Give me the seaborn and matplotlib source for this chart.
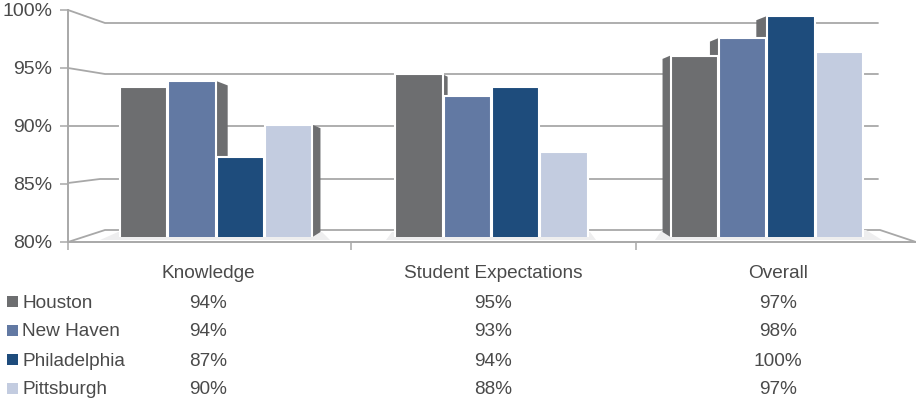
import matplotlib
matplotlib.use("Agg")
import matplotlib.pyplot as plt
from matplotlib.lines import Line2D
from matplotlib.patches import Polygon, Rectangle
from matplotlib.transforms import Affine2D
import pandas as pd
import seaborn as sns

categories = ["Knowledge", "Student Expectations", "Overall"]
series = ["Houston", "New Haven", "Philadelphia", "Pittsburgh"]
houston = [93.6, 94.8, 96.5]
new_haven = [94.2, 92.8, 98.1]
philadelphia = [87.3, 93.6, 100.1]
pittsburgh = [90.2, 87.7, 96.8]
table_houston = ["94%", "95%", "97%"]
table_new_haven = ["94%", "93%", "98%"]
table_philadelphia = ["87%", "94%", "100%"]
table_pittsburgh = ["90%", "88%", "97%"]
y_ticks = [80, 85, 90, 95, 100]
colors = ["#6d6e70", "#6279a3", "#1e4c7c", "#c3cce0"]
side_color = "#6d6e70"
text_color = "#4a4a4a"
line_color = "#a8a8a8"

W, H = 916, 401
sns.set_theme(style="white")
plt.rcParams["font.family"] = ["Liberation Sans", "DejaVu Sans"]

df = pd.DataFrame({
    "category": categories * 4,
    "series": [s for s in series for _ in categories],
    "value": houston + new_haven + philadelphia + pittsburgh,
})

fig = plt.figure(figsize=(W / 100, H / 100), dpi=100, facecolor="white")
PX = Affine2D().scale(1, -1).translate(0, H)


def box(x0, ytop, x1, ybot):
    return [x0 / W, 1 - ybot / H, (x1 - x0) / W, (ybot - ytop) / H]


# back wall / frame axis
wall = fig.add_axes(box(68, 10, 916, 242), zorder=1)
wall.set_xlim(0, 3)
wall.set_ylim(80, 100)
wall.patch.set_alpha(0)
for s in ["top", "right"]:
    wall.spines[s].set_visible(False)
for s in ["left", "bottom"]:
    wall.spines[s].set_color(line_color)
    wall.spines[s].set_linewidth(1.4)
wall.set_yticks(y_ticks)
wall.set_yticklabels([f"{v}%" for v in y_ticks], fontsize=14, color=text_color)
wall.set_xticks([0, 1, 2.01])
wall.set_xticklabels([])
wall.tick_params(axis="both", length=5.5, width=1.1, color=line_color, left=True, bottom=True, pad=6)

grid_paths = [
    [(68, 10), (105, 23), (878, 23)],
    [(68, 68), (105, 74), (878, 74)],
    [(68, 126), (105, 126), (878, 126)],
    [(68, 183), (100, 179), (878, 179)],
    [(68, 242), (105, 230), (880, 230), (916, 242)],
]
for path in grid_paths:
    xs, ys = zip(*path)
    wall.add_line(Line2D(xs, ys, transform=PX, color=line_color, lw=1.3, clip_on=False, zorder=1))

floors = [
    [(100, 240), (118, 232), (322, 232), (330, 240)],
    [(386, 240), (392, 232), (590, 232), (596, 240)],
    [(655, 240), (662, 230), (866, 230), (882, 240)],
]
for poly in floors:
    wall.add_patch(Polygon(poly, closed=True, transform=PX, facecolor="#eeeeef", edgecolor="none",
                           clip_on=False, zorder=1.5))

# bars
ax = fig.add_axes(box(78.5, 0, 904.5, 237), zorder=2)
ax.patch.set_alpha(0)
sns.barplot(data=df, x="category", y="value", hue="series", order=categories, hue_order=series,
            palette=colors, saturation=1, width=0.703, gap=0.02, legend=False, ax=ax,
            edgecolor="white", linewidth=1.5, zorder=3)
ax.set_xlim(-0.5, 2.5)
ax.set_ylim(80, 80 + 237 / 11)
ax.axis("off")

# 3-D side faces, built from each drawn bar: px of depth per category and series
depths = {
    0: [14, 12, 10, 8],
    1: [5, 4, 0, 0],
    2: [-8, -9, -11, -13],
}
bars = list(ax.patches)
unit_x = 275.3
unit_y = 11.0
for s_i in range(4):
    for c_i in range(3):
        b = bars[s_i * 3 + c_i]
        d = depths[c_i][s_i]
        if d == 0:
            continue
        x0 = b.get_x() + b.get_width() if d > 0 else b.get_x()
        top = b.get_y() + b.get_height()
        dx = d / unit_x
        drop = (abs(d) * 0.3 + 1) / unit_y
        rise = 5 / unit_y
        ax.add_patch(Polygon([(x0, top), (x0 + dx, top - drop), (x0 + dx, 80 + rise), (x0, 80)],
                             closed=True, facecolor=side_color, edgecolor="none", zorder=2))

# data table under the chart
col_x = [208, 493, 778]
row_y = [303, 332, 361, 390]
rows = [table_houston, table_new_haven, table_philadelphia, table_pittsburgh]
kw = dict(transform=PX, color=text_color, fontsize=13.7, va="center")
for x, c in zip(col_x, categories):
    fig.text(x, 274, c, ha="center", **kw)
for y, name, vals, col in zip(row_y, series, rows, colors):
    fig.add_artist(Rectangle((7, y - 7), 11, 11, transform=PX, facecolor=col, edgecolor="none"))
    fig.text(22, y, name, ha="left", **kw)
    for x, v in zip(col_x, vals):
        fig.text(x, y, v, ha="center", **kw)

fig.savefig("out.png", dpi=100, facecolor="white")
